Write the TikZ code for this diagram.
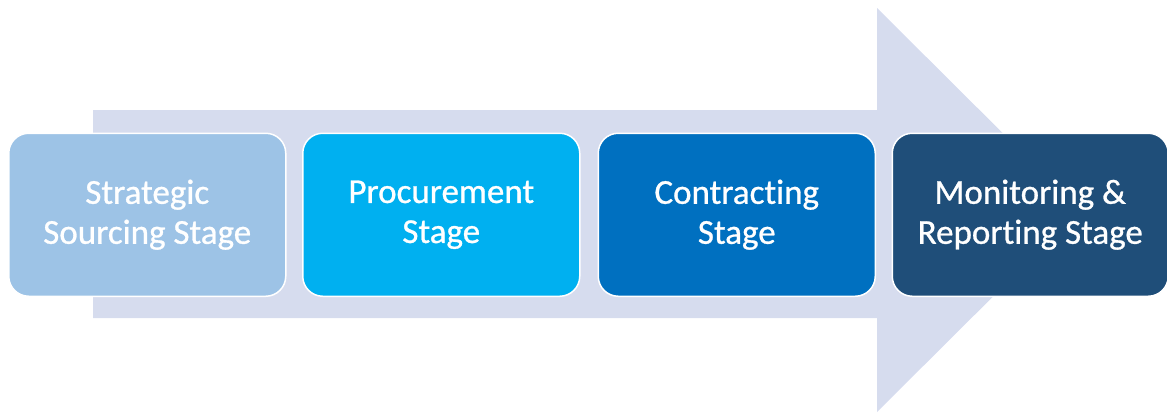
\documentclass[tikz,border=0pt]{standalone}
\usepackage{fontspec}
\setmainfont{Carlito}[Ligatures=NoCommon]
\newfontfamily\stagefont{Carlito}[Ligatures=NoCommon, FakeBold=0.8]
\definecolor{arrowbg}{HTML}{D6DCEE}
\definecolor{cA}{HTML}{9DC3E6}
\definecolor{cB}{HTML}{00B0F0}
\definecolor{cC}{HTML}{0070C0}
\definecolor{cD}{HTML}{1F4E79}
\tikzset{
  stagebox/.style={draw=white, line width=1.5pt, rounded corners=20pt,
    text=white, align=center, font=\stagefont\fontsize{35}{40}\selectfont,
    minimum width=277pt, minimum height=163pt, inner sep=0pt, anchor=north west}
}
\begin{document}
\begin{tikzpicture}[x=1pt,y=-1pt]
\useasboundingbox (0,0) rectangle (1167,416);
\fill[arrowbg] (93,110) -- (877,110) -- (877,8) -- (1080,210) -- (877,412) -- (877,318) -- (93,318) -- cycle;
\node[stagebox, fill=cA] (s1) at (8,132.5) {Strategic\\Sourcing Stage};
\node[stagebox, fill=cB] (s2) at (302,132.5) {Procurement\\Stage};
\node[stagebox, fill=cC] (s3) at (597.5,132.5) {Contracting\\Stage};
\node[stagebox, fill=cD, minimum width=276pt] (s4) at (891.5,132.5) {Monitoring \&\\Reporting Stage};
\end{tikzpicture}
\end{document}
